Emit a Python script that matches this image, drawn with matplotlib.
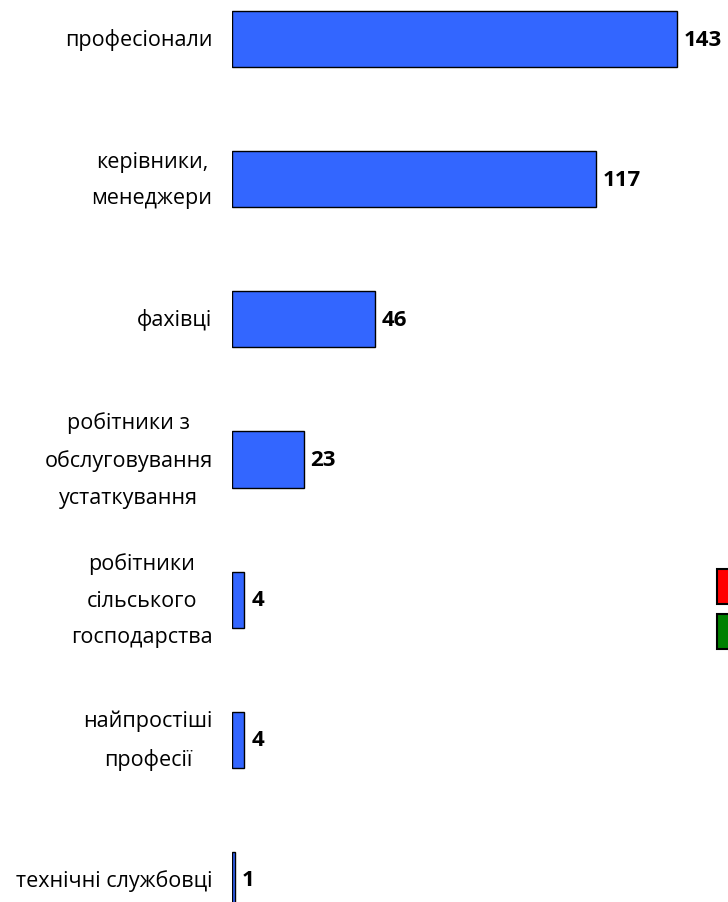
import matplotlib
matplotlib.use("Agg")
import matplotlib.pyplot as plt
from matplotlib.patches import Rectangle

categories = ["професіонали", "керівники,\nменеджери", "фахівці",
              "робітники з\nобслуговування\nустаткування",
              "робітники\nсільського\nгосподарства",
              "найпростіші\nпрофесії", "технічні службовці"]
values = [143, 117, 46, 23, 4, 4, 1]

plt.rcParams['font.family'] = ['Open Sans', 'DejaVu Sans']

fig = plt.figure(figsize=(7.28, 9.03), dpi=100)
ax = fig.add_axes([232 / 728, 0, 1 - 232 / 728, 1])

pos = list(range(len(values)))
ax.barh(pos, values, height=0.4, color="#3366FF", edgecolor="black", linewidth=1)
ax.set_xlim(0, (728 - 232) / 3.11)
ax.set_ylim(6 + 22 / 140, -40 / 140)

for p, v, c in zip(pos, values, categories):
    ax.annotate(str(v), (v, p), xytext=(5, 0), textcoords="offset points",
                va="center", ha="left", fontsize=16, fontweight="bold")
    ax.annotate(c, (0, p), xytext=(-14, 0), textcoords="offset points",
                va="center", ha="right", multialignment="center",
                fontsize=15.5, linespacing=1.95)

for s in ax.spines.values():
    s.set_visible(False)
ax.set_xticks([])
ax.set_yticks([])

# legend patches cut off at the right edge
fig.add_artist(Rectangle((717 / 728, 1 - 605 / 903), 20 / 728, 35 / 903,
                         transform=fig.transFigure, facecolor="red",
                         edgecolor="black", linewidth=1.5))
fig.add_artist(Rectangle((717 / 728, 1 - 650 / 903), 20 / 728, 35 / 903,
                         transform=fig.transFigure, facecolor="green",
                         edgecolor="black", linewidth=1.5))

fig.savefig("out.png", dpi=100)
